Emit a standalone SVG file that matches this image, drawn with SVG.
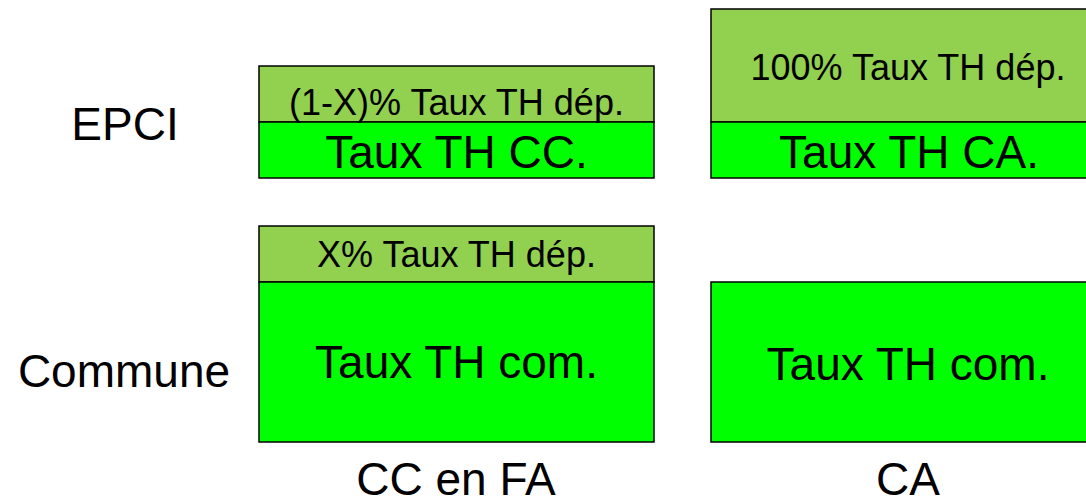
<svg xmlns="http://www.w3.org/2000/svg" width="1086" height="500" viewBox="0 0 1086 500">
<style>
.lt{fill:#92D050;stroke:#000;stroke-width:1.5}
.bg{fill:#00FF00;stroke:#000;stroke-width:1.5}
text{font-family:"Liberation Sans",Arial,sans-serif;fill:#000;text-anchor:middle}
.s{font-size:36px}
.b{font-size:46px}
</style>
<rect width="1086" height="500" fill="#fff"/>
<g id="label-epci"><text class="b" x="125" y="140">EPCI</text></g>
<g id="label-commune"><text class="b" x="124" y="387">Commune</text></g>
<g id="cc-epci">
<rect class="lt" x="259" y="66" width="395" height="56"/>
<rect class="bg" x="259" y="122" width="395" height="56"/>
<text class="s" x="456.5" y="115">(1-X)% Taux TH dép.</text>
<text class="b" x="456.5" y="168">Taux TH CC.</text>
</g>
<g id="ca-epci">
<rect class="lt" x="711" y="9" width="395" height="113"/>
<rect class="bg" x="711" y="122" width="395" height="56"/>
<text class="s" x="908" y="80">100% Taux TH dép.</text>
<text class="b" x="909" y="168">Taux TH CA.</text>
</g>
<g id="cc-commune">
<rect class="lt" x="259" y="226" width="395" height="56"/>
<rect class="bg" x="259" y="282" width="395" height="160"/>
<text class="s" x="456.5" y="267">X% Taux TH dép.</text>
<text class="b" x="456.5" y="378">Taux TH com.</text>
</g>
<g id="ca-commune">
<rect class="bg" x="711" y="282" width="395" height="160"/>
<text class="b" x="908" y="380">Taux TH com.</text>
</g>
<g id="label-cc"><text class="b" x="456" y="495">CC en FA</text></g>
<g id="label-ca"><text class="b" x="908" y="495">CA</text></g>
<g id="connectors"></g>
</svg>
